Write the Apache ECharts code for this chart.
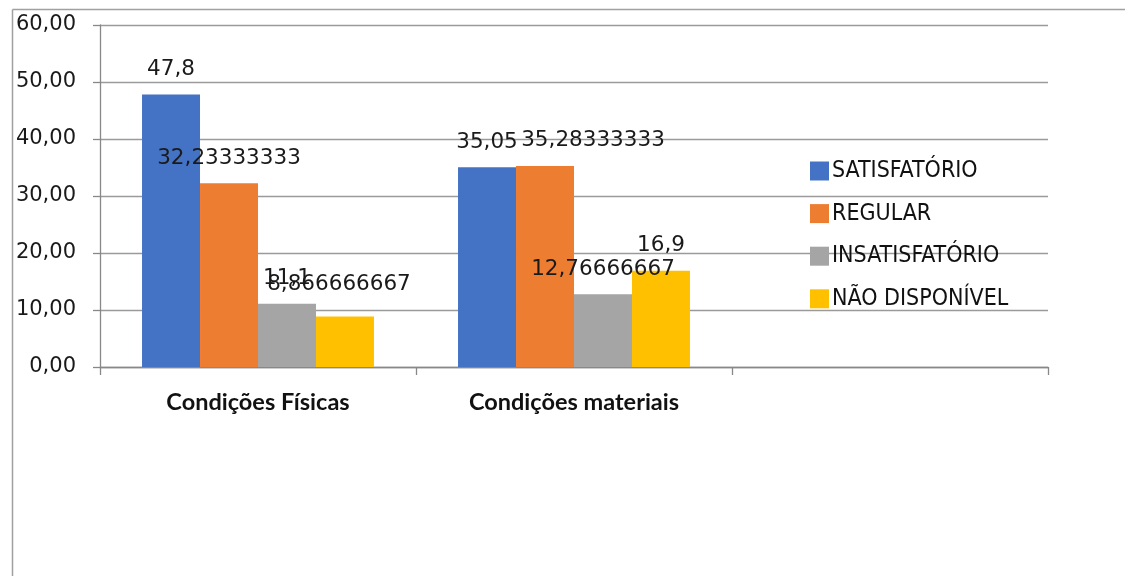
<!DOCTYPE html>
<html>
<head>
<meta charset="utf-8">
<script src="https://cdn.jsdelivr.net/npm/echarts@6/dist/echarts.min.js"></script>
<style>
html,body{margin:0;padding:0;background:#fff;}
#chart{width:1125px;height:576px;}
</style>
</head>
<body>
<div id="chart"></div>
<script>
const categories = ['Condições Físicas', 'Condições materiais', ''];
const seriesNames = ['SATISFATÓRIO', 'REGULAR', 'INSATISFATÓRIO', 'NÃO DISPONÍVEL'];
const satisfatorio = [47.8, 35.05, null];
const regular = [32.23333333, 35.28333333, null];
const insatisfatorio = [11.1, 12.76666667, null];
const naoDisponivel = [8.866666667, 16.9, null];
const colors = ['#4472C4', '#ED7D31', '#A5A5A5', '#FFC000'];
const yTicks = { min: 0, max: 60, interval: 10 };

const seriesData = [satisfatorio, regular, insatisfatorio, naoDisponivel];
// label nudges (styling only), keyed by [series][category]
const labelOffsets = { '1-1': [48, 0], '3-0': [-6, -7] };

const chart = echarts.init(document.getElementById('chart'));
const numFont = '"DejaVu Sans", Verdana, sans-serif';

const option = {
  animation: false,
  backgroundColor: '#fff',
  color: colors,
  grid: { left: 100, right: 77, top: 25, bottom: 209, containLabel: false },
  legend: {
    orient: 'vertical',
    left: 805,
    top: 153,
    icon: 'rect',
    itemWidth: 19,
    itemHeight: 19,
    itemGap: 16.6,
    textStyle: {
      fontFamily: '"DejaVu Sans Condensed", "Liberation Sans Narrow", sans-serif',
      fontSize: 23,
      lineHeight: 26,
      color: '#111',
      padding: [0, 0, 0, -2]
    },
    data: seriesNames
  },
  xAxis: {
    type: 'category',
    data: categories,
    axisLine: { lineStyle: { color: '#888', width: 1.3 } },
    axisTick: { show: true, length: 8, lineStyle: { color: '#888', width: 1.3 } },
    axisLabel: {
      margin: 23,
      fontFamily: 'Lato, "Open Sans", sans-serif',
      fontWeight: 'bold',
      fontSize: 23.5,
      color: '#111'
    }
  },
  yAxis: {
    type: 'value',
    min: yTicks.min,
    max: yTicks.max,
    interval: yTicks.interval,
    axisLine: { show: true, lineStyle: { color: '#888', width: 1.3 } },
    axisTick: { show: true, length: 7, lineStyle: { color: '#888', width: 1.3 } },
    splitLine: { lineStyle: { color: '#9a9a9a', width: 1.3 } },
    axisLabel: {
      margin: 24,
      fontFamily: numFont,
      fontSize: 21,
      color: '#1a1a1a',
      formatter: v => v.toFixed(2).replace('.', ',')
    }
  },
  series: seriesNames.map((name, i) => ({
    name: name,
    type: 'bar',
    data: seriesData[i].map((v, j) => {
      const off = labelOffsets[i + '-' + j];
      return off ? { value: v, label: { offset: off } } : v;
    }),
    barGap: '0%',
    barCategoryGap: '26.6%',
    itemStyle: { color: colors[i] },
    label: {
      show: true,
      position: 'top',
      distance: 14,
      fontFamily: numFont,
      fontSize: 21.5,
      color: '#1a1a1a',
      formatter: p => (p.value == null ? '' : String(p.value).replace('.', ','))
    }
  })),
  graphic: [
    { type: 'line', shape: { x1: 12.5, y1: 9.5, x2: 1125, y2: 9.5 }, style: { stroke: '#a0a0a0', lineWidth: 1.5 } },
    { type: 'line', shape: { x1: 12.5, y1: 9.5, x2: 12.5, y2: 576 }, style: { stroke: '#a0a0a0', lineWidth: 1.5 } }
  ]
};
chart.setOption(option);
</script>
</body>
</html>
